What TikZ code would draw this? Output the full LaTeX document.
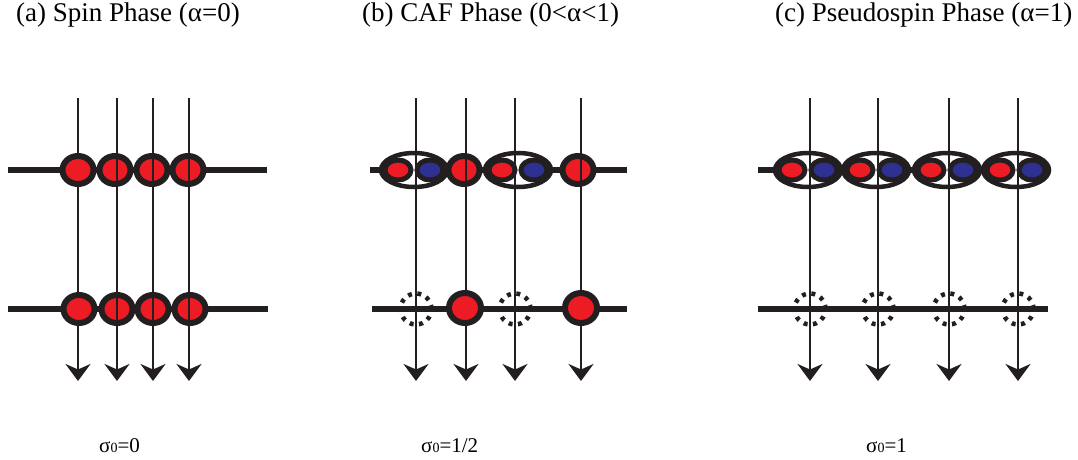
\documentclass[tikz,border=0pt]{standalone}
\usepackage{fontspec}
\setmainfont{Liberation Serif}
\usetikzlibrary{arrows.meta,shapes.geometric}
\definecolor{ink}{HTML}{231F20}
\definecolor{spinred}{HTML}{ED1C24}
\definecolor{spinblue}{HTML}{2E3192}
\tikzset{
  bar/.style={draw=ink, line width=6pt},
  wire/.style={draw=ink, line width=2.8pt, -{Stealth[length=17pt,width=25pt,inset=5.5pt]}},
  spin/.style={ellipse, draw=ink, fill=spinred, line width=6pt,
    minimum width=31pt, minimum height=28pt, inner sep=0pt},
  bigspin/.style={spin, minimum width=32pt, minimum height=30pt},
  pairbox/.style={ellipse, draw=ink, fill=white, line width=4.5pt,
    minimum width=66pt, minimum height=34pt, inner sep=0pt},
  halfred/.style={ellipse, draw=ink, fill=spinred, line width=5pt,
    minimum width=26pt, minimum height=20pt, inner sep=0pt},
  halfblue/.style={halfred, fill=spinblue},
  hole/.style={circle, draw=ink, line width=4.5pt, dash pattern=on 4pt off 5.5pt,
    minimum size=31pt, inner sep=0pt},
  title/.style={anchor=base west, inner sep=0pt, font=\fontsize{27}{31}\selectfont},
  sigma/.style={anchor=base west, inner sep=0pt, font=\fontsize{21}{25}\selectfont},
}
\newcommand{\subz}[1]{{\fontsize{14}{14}\selectfont #1}}
\begin{document}
\begin{tikzpicture}[x=1pt, y=-1pt]
\useasboundingbox (0,0) rectangle (1078,460);

% ---------------- titles ----------------
\node[title] (ta) at (16,22) {(a) Spin Phase (α=0)};
\node[title] (tb) at (362,22) {(b) CAF Phase (0<α<1)};
\node[title] (tc) at (775,22) {(c) Pseudospin Phase (α=1)};

% ---------------- bottom labels ----------------
\node[sigma] (la) at (99,452) {σ\subz{0}=0};
\node[sigma] (lb) at (421,452) {σ\subz{0}=1/2};
\node[sigma] (lc) at (866,452) {σ\subz{0}=1};

% ---------------- wire end points ----------------
\foreach \n/\x in {a1/78, a2/117, a3/153, a4/189,
                   b1/416, b2/466, b3/515, b4/581,
                   c1/810, c2/878, c3/949, c4/1018} {
  \coordinate (\n t) at (\x,98);
  \coordinate (\n b) at (\x,381);
}
% layer bars
\coordinate (aUl) at (8,170);   \coordinate (aUr) at (267,170);
\coordinate (aLl) at (8,309);   \coordinate (aLr) at (268,309);
\coordinate (bUl) at (370,170); \coordinate (bUr) at (627,170);
\coordinate (bLl) at (372,309); \coordinate (bLr) at (627,309);
\coordinate (cUl) at (758,170); \coordinate (cUr) at (1048,170);
\coordinate (cLl) at (758,309); \coordinate (cLr) at (1048,309);

% ================= (a) spin phase =================
\draw[bar] (aUl) -- (aUr);
\draw[bar] (aLl) -- (aLr);
\node[spin] (aU2) at (115,170) {};
\node[spin] (aU3) at (152,170) {};
\node[spin] (aU4) at (188,170) {};
\node[spin] (aL2) at (117,309) {};
\node[spin] (aL3) at (153,309) {};
\node[spin] (aL4) at (190,309) {};
\foreach \n in {a1,a2,a3,a4} \draw[wire] (\n t) -- (\n b);
\node[spin] (aU1) at (78,170) {};
\node[spin] (aL1) at (79,309) {};

% ================= (b) CAF phase =================
\draw[bar] (bUl) -- (bUr);
\draw[bar] (bLl) -- (bLr);
\node[hole] (bH1) at (416,309) {};
\node[hole] (bH3) at (515,309) {};
\node[pairbox] (bP1) at (414,170) {};
\node[halfred]  (bR1) at (398,170) {};
\node[halfblue] (bB1) at (430,170) {};
\node[pairbox] (bP3) at (518,170) {};
\node[halfred]  (bR3) at (502,170) {};
\node[halfblue] (bB3) at (534,170) {};
\node[spin] (bU2) at (464,170) {};
\node[spin] (bU4) at (578,170) {};
\foreach \n in {b1,b2,b3,b4} \draw[wire] (\n t) -- (\n b);
\node[bigspin] (bL2) at (465,308) {};
\node[bigspin] (bL4) at (581,308) {};

% ================= (c) pseudospin phase =================
\draw[bar] (cUl) -- (cUr);
\draw[bar] (cLl) -- (cLr);
\foreach \n/\x in {1/810, 2/878, 3/949, 4/1018} {
  \node[hole] (cH\n) at (\x,309) {};
  \node[pairbox] (cP\n) at (\x-2,170) {};
  \node[halfred]  (cR\n) at (\x-18,170) {};
  \node[halfblue] (cB\n) at (\x+14,170) {};
}
\foreach \n in {c1,c2,c3,c4} \draw[wire] (\n t) -- (\n b);
\end{tikzpicture}
\end{document}
